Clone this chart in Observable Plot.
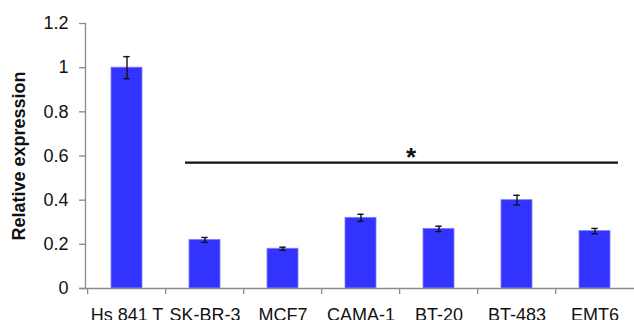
<!DOCTYPE html>
<html>
<head>
<meta charset="utf-8">
<script src="https://cdn.jsdelivr.net/npm/d3@7"></script>
<script src="https://cdn.jsdelivr.net/npm/@observablehq/plot@0.6"></script>
<style>
  html, body { margin: 0; padding: 0; background: #fff; }
  svg { display: block; }
  svg text { font-family: "Liberation Sans", Arial, sans-serif !important; }
  g[aria-label="y-axis tick label"] text { font-size: 18px !important; }
  g[aria-label="x-axis tick label"] text { font-size: 18px !important; }
  g[aria-label="y-axis label"] text { font-size: 18px !important; font-weight: bold !important; }
</style>
</head>
<body>
<div id="chart"></div>
<script>
const cellLines = ["Hs 841 T", "SK-BR-3", "MCF7", "CAMA-1", "BT-20", "BT-483", "EMT6"];
const expression = [1.0, 0.22, 0.18, 0.32, 0.27, 0.40, 0.26];
const errors = [0.05, 0.011, 0.007, 0.016, 0.012, 0.022, 0.012];
const yTicks = [0, 0.2, 0.4, 0.6, 0.8, 1, 1.2];
const sigLevel = 0.57;
const sigFrom = "SK-BR-3";
const sigTo = "EMT6";
const sigLabel = "*";

const data = cellLines.map((c, i) => ({cell: c, value: expression[i], err: errors[i]}));

const W = 634, H = 320, ML = 85, MR = -2;
const step = (W - ML - MR) / cellLines.length;

const chart = Plot.plot({
  width: W,
  height: H,
  marginLeft: ML,
  marginRight: MR,
  marginTop: 23,
  marginBottom: 32,
  style: {fontFamily: "'Liberation Sans', Arial, sans-serif", background: "#fff", color: "#111", fontSize: "18px"},
  x: {domain: cellLines, paddingInner: 0.6, paddingOuter: 0.3, label: null},
  y: {domain: [0, 1.2], label: null},
  marks: [
    Plot.barY(data, {x: "cell", y: "value", fill: "#3333ff", stroke: "#8080ff", strokeWidth: 0.8}),
    Plot.ruleX(data, {x: "cell", y1: d => d.value - d.err, y2: d => d.value + d.err, stroke: "#111", strokeWidth: 1.4}),
    Plot.tickY(data, {x: "cell", y: d => d.value + d.err, stroke: "#111", strokeWidth: 1.4, insetLeft: 12.3, insetRight: 12.3}),
    Plot.tickY(data, {x: "cell", y: d => d.value - d.err, stroke: "#111", strokeWidth: 1.4, insetLeft: 12.3, insetRight: 12.3}),
    Plot.ruleY([0], {stroke: "#8a8a8a", strokeWidth: 1.3, insetLeft: -6}),
    Plot.frame({anchor: "left", stroke: "#8a8a8a", strokeWidth: 1.3}),
    Plot.ruleX(cellLines, {x: d => d, y1: 0, y2: 0, dx: -step / 2, stroke: "#8a8a8a", strokeWidth: 1.3, insetBottom: -6}),
    Plot.axisY({ticks: yTicks, tickFormat: d => String(d), tickSize: 6, tickPadding: 11, fontSize: 18, stroke: "#8a8a8a", strokeWidth: 1.3, fill: "#111",
      label: "Relative expression", labelAnchor: "center", labelArrow: "none", labelOffset: 73}),
    Plot.axisX({tickSize: 0, tickPadding: 19.5, fontSize: 18, fill: "#111", label: null}),
    Plot.ruleY([sigLevel], {x1: () => sigFrom, x2: () => sigTo, stroke: "#111", strokeWidth: 2.4, insetLeft: -4, insetRight: -8}),
    Plot.text([sigLabel], {x: () => "BT-20", y: () => sigLevel, text: d => d, dx: -28, dy: -5, fontSize: 26, fontWeight: "bold", fill: "#111", lineAnchor: "middle"})
  ]
});

document.getElementById("chart").appendChild(chart);
</script>
</body>
</html>
